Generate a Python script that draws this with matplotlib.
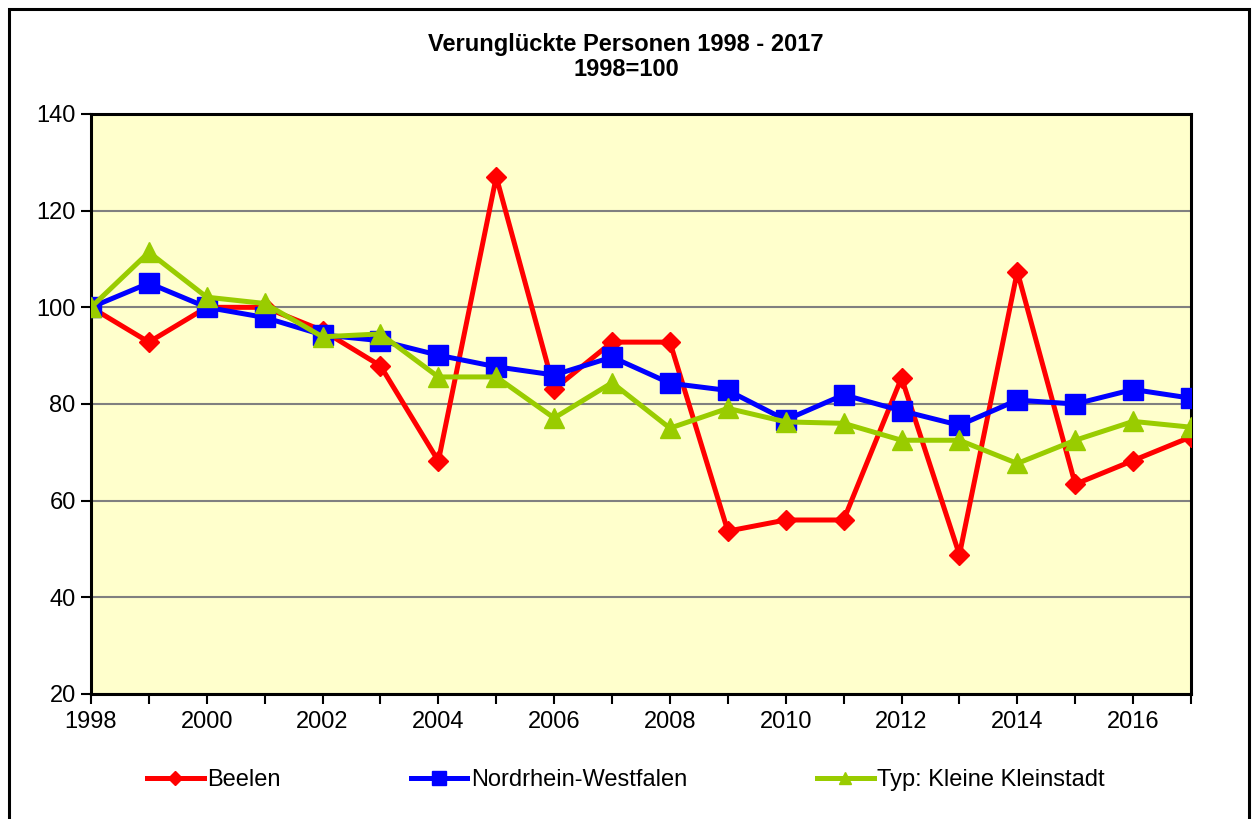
import numpy as np
import matplotlib
matplotlib.use("Agg")
import matplotlib.pyplot as plt
from matplotlib.patches import Rectangle

plt.rcParams['font.family'] = ['Liberation Sans', 'DejaVu Sans']

years = list(range(1998, 2018))
beelen = [100, 92.8, 100, 100, 95.2, 87.9, 68.2, 127.0, 83.1, 92.8,
          92.8, 53.7, 56.0, 56.0, 85.4, 48.8, 107.4, 63.4, 68.3, 73.2]
nrw = [100, 105.0, 100.0, 97.9, 94.3, 93.1, 90.1, 87.7, 86.0, 89.7,
       84.3, 82.8, 76.7, 81.9, 78.6, 75.6, 80.8, 80.0, 83.0, 81.2]
typ = [100, 111.4, 102.1, 100.8, 93.9, 94.5, 85.6, 85.6, 77.1, 84.4,
       75.0, 79.1, 76.3, 76.0, 72.5, 72.5, 67.7, 72.5, 76.4, 75.2]
labels = ['Beelen', 'Nordrhein-Westfalen', 'Typ: Kleine Kleinstadt']

fig = plt.figure(figsize=(12.52, 8.19), dpi=100)
ax = fig.add_axes([91/1252, 1-694/819, (1191-91)/1252, (694-114)/819])
ax.set_facecolor('#FFFFCC')

# outer frame of the chart
fig.patches.append(Rectangle((9/1252, -0.01), (1249-9)/1252, 1-9/819+0.01,
                             transform=fig.transFigure, fill=False,
                             edgecolor='black', linewidth=2.2))

ax.plot(years, beelen, color='#FF0000', lw=3.6, marker='D', ms=10.5,
        label=labels[0], zorder=3)
ax.plot(years, nrw, color='#0000FF', lw=3.6, marker='s', ms=14.5,
        label=labels[1], zorder=4)
ax.plot(years, typ, color='#99CC00', lw=3.6, marker='^', ms=14,
        label=labels[2], zorder=5)

ax.set_xlim(1998, 2017)
ax.set_ylim(20, 140)
ax.set_yticks(range(20, 141, 20))
ax.set_xticks(range(1998, 2017, 2))
ax.set_xticks(range(1998, 2018), minor=True)
ax.yaxis.grid(True, color='#808080', lw=1.5)
ax.set_axisbelow(True)
ax.tick_params(axis='both', which='both', direction='out', length=7,
               width=1.5, labelsize=17, color='black')
ax.tick_params(axis='x', pad=5)
ax.tick_params(axis='y', pad=4)
for s in ax.spines.values():
    s.set_linewidth(2.2)
    s.set_color('black')

fig.text(0.5, 1-57/819, 'Verunglückte Personen 1998 - 2017\n1998=100',
         ha='center', va='center', fontsize=17, fontweight='bold',
         linespacing=1.1)

fig.legend(loc='center', bbox_to_anchor=(0.5, 1-780/819), ncol=3,
           frameon=False, fontsize=17, handlelength=2.4, handletextpad=0.15,
           columnspacing=5.5, markerscale=0.65)

fig.savefig('out.png', dpi=100)
